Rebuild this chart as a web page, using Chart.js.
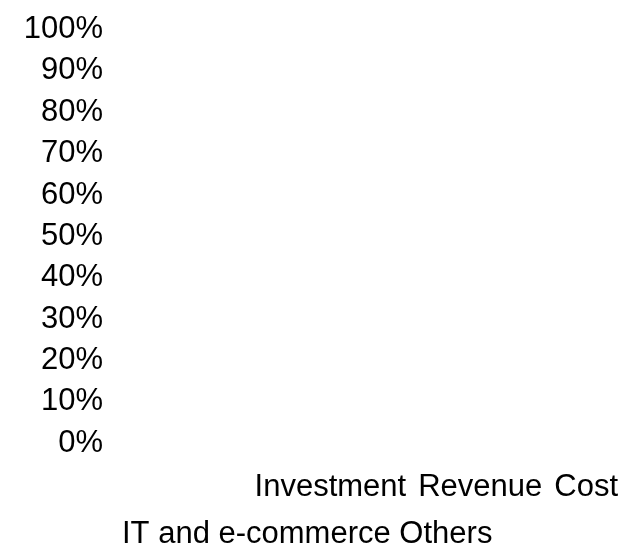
<!DOCTYPE html>
<html>
<head>
<meta charset="utf-8">
<title>Share chart</title>
<script src="https://cdn.jsdelivr.net/npm/chart.js@4/dist/chart.umd.min.js"></script>
<style>
    html, body { margin: 0; padding: 0; background: #fff; }
    #wrap { width: 625px; height: 550px; }
</style>
</head>
<body>
<div id="wrap"><canvas id="shareChart"></canvas></div>
<script>
// Chart data
const categories = ['IT and e-commerce', 'Others'];
const seriesNames = ['Investment', 'Revenue', 'Cost'];
// no bars are visible in the picture
const investment = [null, null];
const revenue = [null, null];
const cost = [null, null];
const yTicks = [0, 10, 20, 30, 40, 50, 60, 70, 80, 90, 100];

const FONT = { family: '"Liberation Sans", Arial, sans-serif', size: 31, weight: 'normal' };

document.addEventListener('DOMContentLoaded', function() {
    initChart();
});

/**
 * Build the stacked percentage bar chart
 */
function initChart() {
    const ctx = document.getElementById('shareChart').getContext('2d');
    const values = [investment, revenue, cost];

    const datasets = seriesNames.map((name, i) => ({
        label: name,
        data: values[i],
        backgroundColor: 'transparent',
        borderColor: 'transparent',
        borderWidth: 0
    }));

    new Chart(ctx, {
        type: 'bar',
        data: {
            labels: categories,
            datasets: datasets
        },
        options: {
            responsive: true,
            maintainAspectRatio: false,
            animation: false,
            layout: {
                padding: { top: 21, left: 12.7, right: 7, bottom: 0 }
            },
            scales: {
                x: {
                    stacked: true,
                    ticks: { display: false },
                    // invisible tick marks only keep room between plot and legend
                    grid: { display: true, color: 'transparent', drawOnChartArea: false, tickLength: 29 },
                    border: { display: false }
                },
                y: {
                    stacked: true,
                    min: 0,
                    max: 100,
                    afterBuildTicks: axis => {
                        axis.ticks = yTicks.map(v => ({ value: v }));
                    },
                    ticks: {
                        color: '#000',
                        font: FONT,
                        padding: 11,
                        callback: v => v + '%'
                    },
                    grid: { display: false },
                    border: { display: false }
                }
            },
            plugins: {
                legend: {
                    position: 'bottom',
                    align: 'end',
                    labels: {
                        color: '#000',
                        font: FONT,
                        // no swatches: words sit a plain gap apart
                        boxWidth: -3.5,
                        boxHeight: 0,
                        padding: 0
                    }
                },
                title: {
                    display: true,
                    position: 'bottom',
                    align: 'start',
                    fullSize: false,
                    text: categories.join(' '),
                    color: '#000',
                    font: Object.assign({}, FONT, { lineHeight: 1 }),
                    padding: { top: 6, bottom: 0 }
                },
                tooltip: { enabled: false }
            }
        }
    });
}
</script>
</body>
</html>
